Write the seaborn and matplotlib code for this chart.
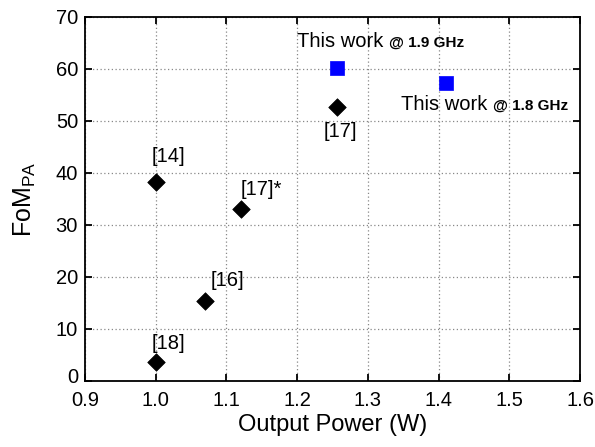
import matplotlib
matplotlib.use("Agg")
import matplotlib.pyplot as plt
import matplotlib.transforms as mtransforms
import seaborn as sns
import pandas as pd

# Reference designs (black diamonds)
ref_power = [1.0, 1.12, 1.07, 1.0, 1.257]
ref_fom = [38.3, 33.0, 15.4, 3.7, 52.7]
ref_labels = ["[14]", "[17]*", "[16]", "[18]", "[17]"]

# This work (blue squares)
work_power = [1.256, 1.41]
work_fom = [60.2, 57.3]
work_freq = ["@ 1.9 GHz", "@ 1.8 GHz"]

sns.set_style("ticks")
plt.rcParams["font.family"] = ["Liberation Sans", "DejaVu Sans"]
plt.rcParams["text.color"] = "black"
plt.rcParams["axes.labelcolor"] = "black"
plt.rcParams["xtick.color"] = "black"
plt.rcParams["ytick.color"] = "black"

fig = plt.figure(figsize=(5.95, 4.47), dpi=100)
ax = fig.add_axes([85 / 595, 1 - 381 / 447, 495 / 595, 364 / 447])

df_ref = pd.DataFrame({"power": ref_power, "fom": ref_fom})
df_work = pd.DataFrame({"power": work_power, "fom": work_fom})

sns.scatterplot(data=df_ref, x="power", y="fom", marker="D", s=80,
                color="black", edgecolor="black", linewidth=0.5, ax=ax, zorder=3)
sns.scatterplot(data=df_work, x="power", y="fom", marker="s", s=88,
                color="#0000ff", edgecolor="#0000ff", linewidth=0.5, ax=ax, zorder=3)

ax.set_xlim(0.9, 1.6)
ax.set_ylim(0, 70)
ax.set_xticks([0.9, 1.0, 1.1, 1.2, 1.3, 1.4, 1.5, 1.6])
ax.set_yticks(range(0, 71, 10))
ax.grid(True, linestyle=(0, (1, 2)), color="#888888", linewidth=0.9)
ax.set_axisbelow(True)
for sp in ax.spines.values():
    sp.set_linewidth(1.3)
    sp.set_color("black")
ax.tick_params(direction="in", length=5, width=1.3, labelsize=14.5,
               top=True, right=True)
ax.tick_params(axis="x", pad=7)
ax.tick_params(axis="y", pad=5)

# lift the "0" label slightly so it sits above the "0.9" label
ylab0 = ax.get_yticklabels()[0]
ylab0.set_transform(ylab0.get_transform() +
                    mtransforms.ScaledTranslation(0, 4 / 72, fig.dpi_scale_trans))

ax.set_xlabel("Output Power (W)", fontsize=17, labelpad=3)
ax.set_ylabel("FoM$_{\\mathregular{PA}}$", fontsize=18, labelpad=13)

# Reference labels: (dx, dy, alignment) relative to each point
offsets = {"[14]": (-0.0057, 4.8, "left"), "[17]*": (0.0, 3.9, "left"),
           "[16]": (0.007, 4.0, "left"), "[18]": (-0.0057, 3.5, "left"),
           "[17]": (0.004, -4.8, "center")}
for x, y, lab in zip(ref_power, ref_fom, ref_labels):
    dx, dy, ha = offsets[lab]
    ax.text(x + dx, y + dy, lab, fontsize=14.5, ha=ha, va="center")

# This-work labels: main text plus smaller bold frequency
t1 = ax.annotate("This work ", (1.2, 65.2), fontsize=14.5, va="center", ha="left")
ax.annotate(work_freq[0], xycoords=t1, xy=(1, 0.45), va="center", ha="left",
            fontsize=11, fontweight="bold")
t2 = ax.annotate("This work ", (1.347, 53.1), fontsize=14.5, va="center", ha="left")
ax.annotate(work_freq[1], xycoords=t2, xy=(1, 0.45), va="center", ha="left",
            fontsize=11, fontweight="bold")

fig.savefig("out.png", dpi=100)
